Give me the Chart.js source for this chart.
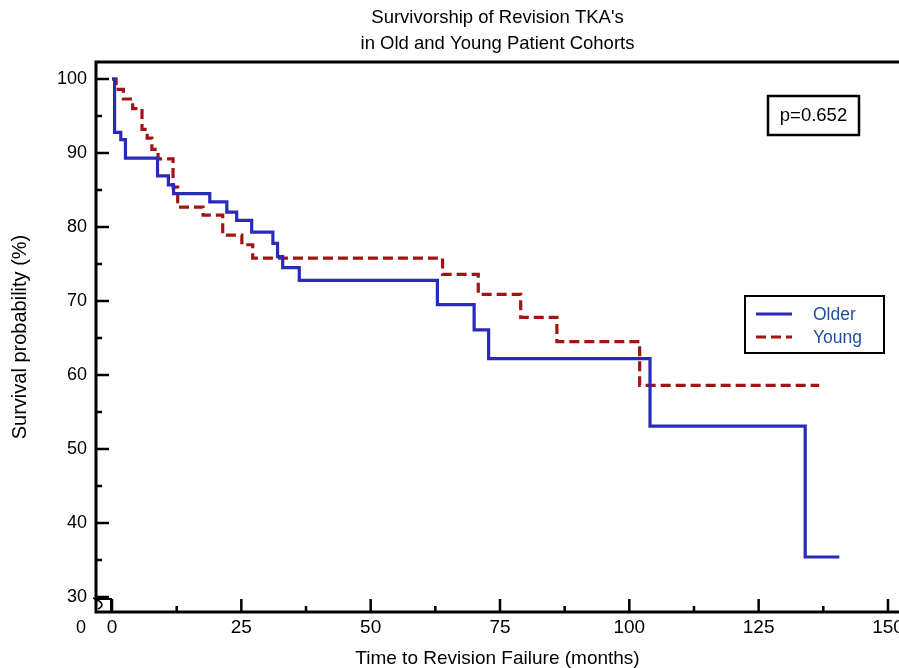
<!DOCTYPE html>
<html>
<head>
<meta charset="utf-8">
<title>Survivorship of Revision TKA's</title>
<script src="https://cdn.jsdelivr.net/npm/chart.js@4.4.1/dist/chart.umd.min.js"></script>
<style>
  html, body { margin: 0; padding: 0; background: #fff; }
  #wrap { width: 899px; height: 668px; }
</style>
</head>
<body>
<div id="wrap"><canvas id="km" width="899" height="668"></canvas></div>
<script>
// Kaplan-Meier steps: month of each drop and survival (%) after it.
const olderMonths   = [0, 0.5, 1.7, 2.6, 8.8, 10.9, 11.9, 18.9, 22.2, 24.1, 27.0, 31.1, 32.0, 33.0, 36.2, 62.9, 70.0, 72.8, 104.0, 134.0, 140.6];
const olderSurvival = [100, 92.8, 91.8, 89.3, 86.9, 85.7, 84.5, 83.4, 82.0, 80.9, 79.3, 77.8, 76.0, 74.5, 72.8, 69.5, 66.1, 62.2, 53.1, 35.4, 35.4];

const youngMonths   = [0, 0.8, 2.2, 4.0, 5.8, 6.8, 7.7, 8.9, 11.8, 12.7, 17.6, 21.4, 25.1, 27.2, 63.9, 70.8, 79.0, 86.0, 102.0, 136.7];
const youngSurvival = [100, 98.6, 97.3, 96.0, 93.2, 92.0, 90.5, 89.2, 85.4, 82.7, 81.6, 78.9, 77.6, 75.8, 73.6, 70.9, 67.8, 64.5, 58.6, 58.6];

const seriesNames = ["Older", "Young"];
const xTicks = [0, 25, 50, 75, 100, 125, 150];
const xMinorTicks = [12.5, 37.5, 62.5, 87.5, 112.5, 137.5];
const yTicks = [30, 40, 50, 60, 70, 80, 90, 100];
const yMinorTicks = [35, 45, 55, 65, 75, 85, 95];
const pValueText = "p=0.652";

const FONT = "'Liberation Sans', Arial, Helvetica, sans-serif";
const BLUE = "#2a2ab8";
const RED = "#a01414";
const LEGEND_TEXT = "#1f4f9e";

function toPoints(xs, ys) {
  return xs.map(function (x, i) { return { x: x, y: ys[i] }; });
}

// frame, inward ticks, axis break, p-value box and legend
const decorations = {
  id: "decorations",
  afterDraw: function (chart) {
    const ctx = chart.ctx;
    const ca = chart.chartArea;
    const sx = chart.scales.x;
    const sy = chart.scales.y;
    ctx.save();
    ctx.strokeStyle = "#000";
    ctx.lineCap = "butt";

    // frame: left, bottom, top
    ctx.lineWidth = 3;
    ctx.beginPath();
    ctx.moveTo(ca.left, ca.top - 1.5);
    ctx.lineTo(ca.left, ca.bottom + 1.5);
    ctx.moveTo(ca.left - 1.5, ca.bottom);
    ctx.lineTo(ca.right, ca.bottom);
    ctx.moveTo(ca.left - 1.5, ca.top);
    ctx.lineTo(ca.right, ca.top);
    ctx.stroke();

    // inward ticks
    ctx.lineWidth = 2.5;
    ctx.beginPath();
    xTicks.forEach(function (v) {
      const px = sx.getPixelForValue(v);
      ctx.moveTo(px, ca.bottom);
      ctx.lineTo(px, ca.bottom - 13);
    });
    xMinorTicks.forEach(function (v) {
      const px = sx.getPixelForValue(v);
      ctx.moveTo(px, ca.bottom);
      ctx.lineTo(px, ca.bottom - 6);
    });
    yTicks.forEach(function (v) {
      const py = sy.getPixelForValue(v);
      ctx.moveTo(ca.left, py);
      ctx.lineTo(ca.left + 13, py);
    });
    yMinorTicks.forEach(function (v) {
      const py = sy.getPixelForValue(v);
      ctx.moveTo(ca.left, py);
      ctx.lineTo(ca.left + 6, py);
    });
    ctx.stroke();

    // axis break mark in the corner
    const x0 = sx.getPixelForValue(0);
    const y30 = sy.getPixelForValue(30);
    ctx.lineWidth = 2;
    ctx.beginPath();
    ctx.moveTo(ca.left, y30 + 2);
    ctx.lineTo(x0 - 1, y30 + 2);
    ctx.lineTo(x0 - 1, ca.bottom);
    ctx.stroke();
    ctx.lineWidth = 1.5;
    ctx.beginPath();
    ctx.moveTo(ca.left - 3, y30 + 1);
    ctx.quadraticCurveTo(ca.left + 12, y30 + 7, ca.left + 2, ca.bottom - 3);
    ctx.stroke();

    // lone origin label of the broken y axis
    ctx.fillStyle = "#000";
    ctx.font = "18px " + FONT;
    ctx.textAlign = "center";
    ctx.textBaseline = "middle";
    ctx.fillText("0", ca.left - 15, ca.bottom + 16);

    // p-value box
    ctx.lineWidth = 2.5;
    ctx.strokeRect(768, 96, 91, 39);
    ctx.font = "18.5px " + FONT;
    ctx.fillText(pValueText, 813.5, 116);

    // legend
    ctx.lineWidth = 2;
    ctx.strokeRect(745, 296, 139, 57);
    const ds = chart.data.datasets;
    const rows = [314, 337];
    ds.forEach(function (d, i) {
      ctx.save();
      ctx.strokeStyle = d.borderColor;
      ctx.lineWidth = 3;
      ctx.setLineDash(d.borderDash || []);
      ctx.beginPath();
      ctx.moveTo(756, rows[i]);
      ctx.lineTo(792, rows[i]);
      ctx.stroke();
      ctx.restore();
      ctx.fillStyle = LEGEND_TEXT;
      ctx.font = "17.5px " + FONT;
      ctx.textAlign = "left";
      ctx.textBaseline = "middle";
      ctx.fillText(d.label, 813, rows[i] + 1);
    });
    ctx.restore();
  }
};

new Chart(document.getElementById("km"), {
  type: "line",
  data: {
    datasets: [
      {
        label: seriesNames[0],
        data: toPoints(olderMonths, olderSurvival),
        borderColor: BLUE,
        backgroundColor: BLUE,
        borderWidth: 3.2,
        stepped: true,
        pointRadius: 0,
        fill: false
      },
      {
        label: seriesNames[1],
        data: toPoints(youngMonths, youngSurvival),
        borderColor: RED,
        backgroundColor: RED,
        borderWidth: 3.2,
        borderDash: [10, 5],
        stepped: true,
        pointRadius: 0,
        fill: false
      }
    ]
  },
  options: {
    responsive: false,
    animation: false,
    devicePixelRatio: 1,
    layout: { padding: 0 },
    plugins: {
      legend: { display: false },
      tooltip: { enabled: false },
      title: {
        display: true,
        fullSize: false,
        text: ["Survivorship of Revision TKA's", "in Old and Young Patient Cohorts"],
        color: "#000",
        font: { family: FONT, size: 18.5, weight: "normal", lineHeight: 26 / 18.5 },
        padding: { top: 5, bottom: 5 }
      }
    },
    scales: {
      x: {
        type: "linear",
        min: -3.093,
        max: 152.13,
        grid: { display: false, drawTicks: false },
        border: { display: false },
        ticks: { color: "#000", font: { family: FONT, size: 19 }, padding: 4, maxRotation: 0, autoSkip: false },
        title: {
          display: true,
          text: "Time to Revision Failure (months)",
          color: "#000",
          font: { family: FONT, size: 19 },
          padding: { top: 0, bottom: -2 }
        },
        afterBuildTicks: function (scale) {
          scale.ticks = xTicks.map(function (v) { return { value: v }; });
        },
        afterFit: function (scale) {
          scale.height = 56;
          scale.paddingLeft = 0;
          scale.paddingRight = 0;
        }
      },
      y: {
        type: "linear",
        min: 27.97,
        max: 102.30,
        grid: { display: false, drawTicks: false },
        border: { display: false },
        ticks: { color: "#000", font: { family: FONT, size: 18 }, padding: 9, autoSkip: false },
        title: {
          display: true,
          text: "Survival probability (%)",
          color: "#000",
          font: { family: FONT, size: 20 },
          padding: { top: 8, bottom: 0 }
        },
        afterBuildTicks: function (scale) {
          scale.ticks = yTicks.map(function (v) { return { value: v }; });
        },
        afterFit: function (scale) {
          scale.width = 96;
          scale.paddingTop = 0;
          scale.paddingBottom = 0;
        }
      }
    }
  },
  plugins: [decorations]
});
</script>
</body>
</html>
